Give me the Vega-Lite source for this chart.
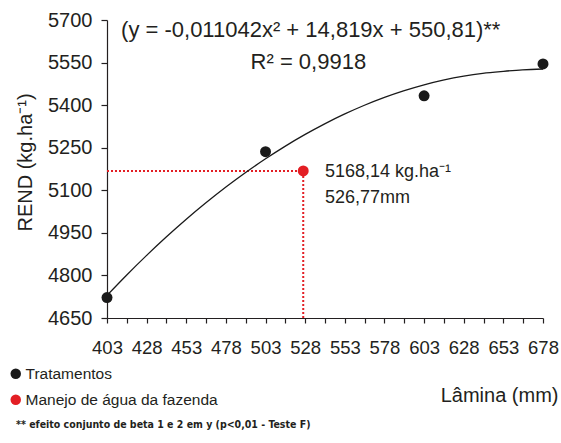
{
  "$schema": "https://vega.github.io/schema/vega-lite/v6.json",
  "autosize": {"type": "none"},
  "width": 436,
  "height": 298,
  "padding": {"left": 107, "top": 20, "right": 18, "bottom": 125},
  "background": "white",
  "config": {
    "view": {"stroke": null},
    "font": "Liberation Sans",
    "axis": {"grid": false, "labelOverlap": false, "domainColor": "#231f20", "tickColor": "#231f20", "labelColor": "#231f20", "titleColor": "#231f20", "labelFont": "Liberation Sans", "titleFont": "Liberation Sans", "titleFontWeight": "normal", "domainWidth": 1.2, "tickWidth": 1.2}
  },
  "title": {
    "text": "** efeito conjunto de beta 1 e 2 em y (p<0,01 - Teste F)",
    "orient": "bottom",
    "anchor": "start",
    "frame": "group",
    "dx": -91,
    "offset": 11,
    "font": "DejaVu Sans Condensed",
    "fontSize": 10.5,
    "fontWeight": "bold",
    "color": "#231f20"
  },
  "datasets": {
    "pts": [
      {"lamina": 403, "rend": 4722, "serie": "Tratamentos"},
      {"lamina": 503, "rend": 5236, "serie": "Tratamentos"},
      {"lamina": 603, "rend": 5433, "serie": "Tratamentos"},
      {"lamina": 678, "rend": 5545, "serie": "Tratamentos"},
      {"lamina": 526.77, "rend": 5168.14, "serie": "Manejo de água da fazenda"}
    ],
    "curve": [
      {"lamina": 403, "rend": 4729.6},
      {"lamina": 415, "rend": 4799.0},
      {"lamina": 428, "rend": 4870.6},
      {"lamina": 440, "rend": 4933.4},
      {"lamina": 453, "rend": 4997.9},
      {"lamina": 465, "rend": 5054.1},
      {"lamina": 478, "rend": 5111.4},
      {"lamina": 490, "rend": 5160.9},
      {"lamina": 503, "rend": 5211.0},
      {"lamina": 515, "rend": 5254.0},
      {"lamina": 528, "rend": 5296.9},
      {"lamina": 540, "rend": 5333.2},
      {"lamina": 553, "rend": 5369.0},
      {"lamina": 565, "rend": 5398.7},
      {"lamina": 578, "rend": 5427.3},
      {"lamina": 590, "rend": 5450.3},
      {"lamina": 603, "rend": 5471.7},
      {"lamina": 615, "rend": 5488.1},
      {"lamina": 628, "rend": 5502.4},
      {"lamina": 640, "rend": 5512.2},
      {"lamina": 653, "rend": 5519.2},
      {"lamina": 665, "rend": 5524.4},
      {"lamina": 678, "rend": 5527.3}
    ],
    "ref": [
      {"lamina": 526.77, "rend": 5168.14, "lamina0": 403, "rend0": 4650}
    ],
    "eq": [
      {"lamina": 531.5, "rend": 5665, "label": "(y = -0,011042x² + 14,819x + 550,81)**"},
      {"lamina": 530, "rend": 5553, "label": "R² = 0,9918"}
    ],
    "ann": [
      {"lamina": 540.5, "rend": 5166, "label": "5168,14 kg.ha⁻¹"},
      {"lamina": 540.5, "rend": 5074, "label": "526,77mm"}
    ]
  },
  "layer": [
    {
      "data": {"name": "ref"},
      "mark": {"type": "rule", "color": "#e31e24", "strokeWidth": 2, "strokeDash": [2, 2]},
      "encoding": {
        "x": {
          "field": "lamina0", "type": "quantitative",
          "scale": {"domain": [403, 678], "nice": false, "zero": false},
          "axis": {
            "title": "Lâmina (mm)",
            "values": [403, 415.5, 428, 440.5, 453, 465.5, 478, 490.5, 503, 515.5, 528, 540.5, 553, 565.5, 578, 590.5, 603, 615.5, 628, 640.5, 653, 665.5, 678],
            "tickCount": 100,
            "labelExpr": "(datum.value - 403) % 25 == 0 ? format(datum.value, 'd') : ''",
            "labelOverlap": false,
            "labelBound": false,
            "labelFontSize": 18.5,
            "labelPadding": 15,
            "tickSize": 5,
            "labelFlush": false,
            "titleFontSize": 20,
            "titleX": 451,
            "titleY": 77,
            "titleAlign": "right",
            "titleBaseline": "middle",
            "titleAnchor": null
          }
        },
        "x2": {"field": "lamina"},
        "y": {
          "field": "rend", "type": "quantitative",
          "scale": {"domain": [4650, 5700], "nice": false, "zero": false},
          "axis": {
            "title": "REND (kg.ha⁻¹)",
            "values": [4650, 4800, 4950, 5100, 5250, 5400, 5550, 5700],
            "tickCount": 100,
            "format": "d",
            "labelOverlap": false,
            "labelFontSize": 20,
            "labelPadding": 9,
            "tickSize": 6,
            "labelFlush": false,
            "titleFontSize": 20,
            "titleX": -82,
            "titleY": 142,
            "titleAlign": "center",
            "titleBaseline": "middle",
            "titleAngle": -90
          }
        }
      }
    },
    {
      "data": {"name": "ref"},
      "mark": {"type": "rule", "color": "#e31e24", "strokeWidth": 2, "strokeDash": [2, 2]},
      "encoding": {
        "x": {"field": "lamina", "type": "quantitative"},
        "y": {"field": "rend0", "type": "quantitative"},
        "y2": {"field": "rend"}
      }
    },
    {
      "data": {"name": "curve"},
      "mark": {"type": "line", "color": "#1a1a1a", "strokeWidth": 1.3, "interpolate": "monotone"},
      "encoding": {
        "x": {"field": "lamina", "type": "quantitative"},
        "y": {"field": "rend", "type": "quantitative"}
      }
    },
    {
      "data": {"name": "pts"},
      "mark": {"type": "circle", "opacity": 1, "size": 120},
      "encoding": {
        "x": {"field": "lamina", "type": "quantitative"},
        "y": {"field": "rend", "type": "quantitative"},
        "color": {
          "field": "serie", "type": "nominal",
          "scale": {"domain": ["Tratamentos", "Manejo de água da fazenda"], "range": ["#1a1a1a", "#e31e24"]},
          "legend": {
            "title": null,
            "orient": "none",
            "legendX": -99,
            "legendY": 346,
            "padding": 0,
            "symbolType": "circle",
            "symbolSize": 110,
            "symbolStrokeWidth": 0,
            "labelFontSize": 15.5,
            "labelColor": "#231f20",
            "labelOffset": 2,
            "rowPadding": 9,
            "labelLimit": 300
          }
        }
      }
    },
    {
      "data": {"name": "eq"},
      "mark": {"type": "text", "fontSize": 22, "align": "center", "baseline": "middle", "color": "#231f20"},
      "encoding": {
        "x": {"field": "lamina", "type": "quantitative"},
        "y": {"field": "rend", "type": "quantitative"},
        "text": {"field": "label"}
      }
    },
    {
      "data": {"name": "ann"},
      "mark": {"type": "text", "fontSize": 18, "align": "left", "baseline": "middle", "color": "#231f20"},
      "encoding": {
        "x": {"field": "lamina", "type": "quantitative"},
        "y": {"field": "rend", "type": "quantitative"},
        "text": {"field": "label"}
      }
    }
  ]
}
